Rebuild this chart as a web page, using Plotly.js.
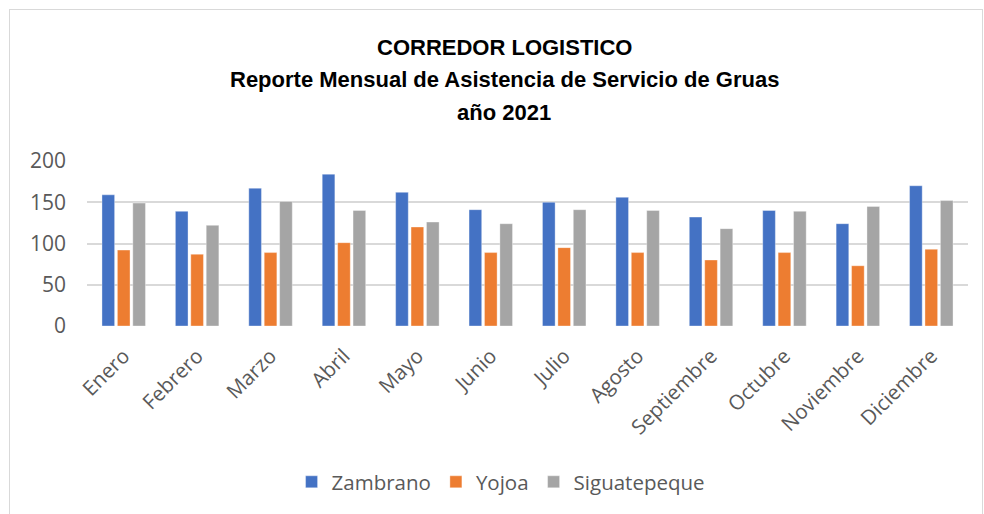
<!DOCTYPE html>
<html>
<head>
<meta charset="utf-8">
<script src="https://cdn.plot.ly/plotly-3.0.1.min.js"></script>
<style>
  html, body { margin: 0; padding: 0; background: #fff; }
  #wrap { position: relative; width: 984px; height: 514px; }
  #chart { width: 984px; height: 514px; }
  #frame { position: absolute; left: 9px; top: 9px; width: 972px; height: 520px; border: 1px solid #d9d9d9; pointer-events: none; }
</style>
</head>
<body>
<div id="wrap">
  <div id="chart"></div>
  <div id="frame"></div>
</div>
<script>
const months = ["Enero","Febrero","Marzo","Abril","Mayo","Junio","Julio","Agosto","Septiembre","Octubre","Noviembre","Diciembre"];
const zambrano = [159, 139, 167, 184, 162, 141, 150, 156, 132, 140, 124, 170];
const yojoa = [92, 87, 89, 101, 120, 89, 95, 89, 80, 89, 73, 93];
const siguatepeque = [149, 122, 151, 140, 126, 124, 141, 140, 118, 139, 145, 152];
const yTicks = [0, 50, 100, 150, 200];
const titleLines = ["CORREDOR LOGISTICO", "Reporte Mensual de Asistencia de Servicio de Gruas", "año 2021"];

const font = "Open Sans, Noto Sans, sans-serif";
const mk = (name, y, color) => ({
  type: "bar", name: name, x: months, y: y,
  marker: { color: color, line: { color: "rgba(255,255,255,0.35)", width: 1 } }
});
const data = [
  mk("Zambrano", zambrano, "#4472C4"),
  mk("Yojoa", yojoa, "#ED7D31"),
  mk("Siguatepeque", siguatepeque, "#A5A5A5")
];

const titleY = [47, 80, 113];
const annotations = titleLines.map((t, i) => ({
  text: "<b>" + t + "</b>", xref: "paper", yref: "paper",
  x: (504 - 87) / 881, xanchor: "center", y: (326 - titleY[i]) / 165, yanchor: "middle",
  showarrow: false, font: { family: "Liberation Sans, Arial, sans-serif", size: 22, color: "#000" }
}));

const layout = {
  width: 984, height: 514,
  margin: { l: 87, r: 16, t: 161, b: 188 },
  paper_bgcolor: "#fff", plot_bgcolor: "#fff",
  font: { family: font, color: "#595959" },
  barmode: "group", bargap: 0.37, bargroupgap: 0.18,
  showlegend: true,
  legend: { orientation: "h", x: 0.47, xanchor: "center", y: (326 - 482) / 165, yanchor: "middle",
            font: { family: font, size: 20.5, color: "#595959" }, itemwidth: 30 },
  xaxis: { type: "category", tickangle: -45, tickfont: { family: font, size: 20.5, color: "#595959" },
           showline: false, ticks: "", showgrid: false, automargin: false, ticklabelstandoff: 13 },
  yaxis: { range: [0, 200], tickvals: yTicks, ticktext: yTicks.map(String), showgrid: true, gridcolor: "#d9d9d9", gridwidth: 2,
           zeroline: false, showline: false, ticks: "", ticklabelstandoff: 20,
           tickfont: { family: font, size: 21, color: "#595959" }, automargin: false },
  annotations: annotations
};
Plotly.newPlot("chart", data, layout, { displayModeBar: false, staticPlot: true });
</script>
</body>
</html>
